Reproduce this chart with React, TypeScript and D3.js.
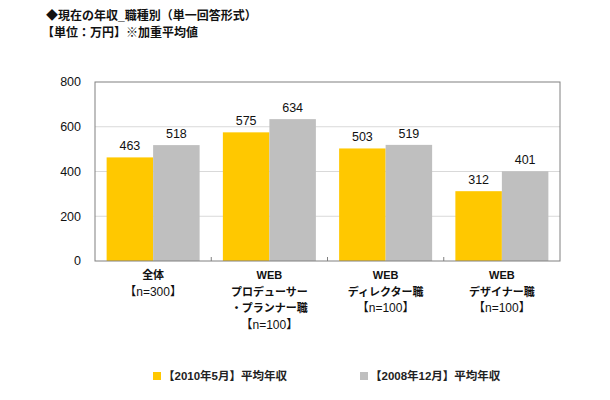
import * as d3 from "d3";

const categories = ["全体", "WEBプロデューサー", "WEBディレクター職", "WEBデザイナー職"];
const categoryLines = [
	["全体", "【n=300】"],
	["WEB", "プロデューサー", "・プランナー職", "【n=100】"],
	["WEB", "ディレクター職", "【n=100】"],
	["WEB", "デザイナー職", "【n=100】"],
];
const series2010 = [463, 575, 503, 312];
const series2008 = [518, 634, 519, 401];
const seriesNames = ["【2010年5月】平均年収", "【2008年12月】平均年収"];
const yTickValues = [0, 200, 400, 600, 800];

const colors = ["#FFC800", "#BFBFBF"];
const font = "Arial, 'Liberation Sans', 'Noto Sans CJK JP', sans-serif";

export default function App() {
	const width = 610;
	const height = 400;
	const margin = { top: 82, right: 50, bottom: 139, left: 95 };
	const innerW = width - margin.left - margin.right;
	const innerH = height - margin.top - margin.bottom;

	const x0 = d3.scaleBand<string>().domain(categories).range([0, innerW]).paddingInner(0.2).paddingOuter(0.1);
	const x1 = d3.scaleBand<number>().domain([0, 1]).range([0, x0.bandwidth()]);
	const y = d3.scaleLinear().domain([0, 800]).range([innerH, 0]);

	const data = [series2010, series2008];

	return (
		<svg width={width} height={height} style={{ position: "absolute", left: 0, top: 0, background: "#fff" }} fontFamily={font}>
			<text x={46} y={20} fontSize={12} fontWeight="bold" fill="#111">◆現在の年収_職種別（単一回答形式）</text>
			<text x={42} y={37} fontSize={12} fontWeight="bold" fill="#111">【単位：万円】※加重平均値</text>
			<g transform={`translate(${margin.left},${margin.top})`}>
				{yTickValues.map((t) => (
					<g key={t}>
						{t > 0 && t < 800 && (
							<line x1={0} x2={innerW} y1={y(t)} y2={y(t)} stroke="#d9d9d9" strokeWidth={1} />
						)}
						<text x={-14} y={y(t)} dy="0.35em" textAnchor="end" fontSize={12.5} fill="#111">{t}</text>
					</g>
				))}
				{categories.map((c, i) => (
					<g key={c} transform={`translate(${x0(c)},0)`}>
						{data.map((s, j) => (
							<g key={j}>
								<rect x={x1(j)} y={y(s[i])} width={x1.bandwidth()} height={innerH - y(s[i])} fill={colors[j]} />
								<text x={(x1(j) as number) + x1.bandwidth() / 2} y={y(s[i]) - 7} textAnchor="middle" fontSize={12.5} fill="#111">{s[i]}</text>
							</g>
						))}
					</g>
				))}
				<rect x={0} y={0} width={innerW} height={innerH} fill="none" stroke="#808080" strokeWidth={1} />
				{categories.slice(1).map((c) => {
					const bx = (x0(c) as number) - (x0.step() - x0.bandwidth()) / 2;
					return <line key={c} x1={bx} x2={bx} y1={innerH} y2={innerH - 4} stroke="#808080" />;
				})}
				{categories.map((c, i) => (
					<text key={c} x={(x0(c) as number) + x0.bandwidth() / 2} y={innerH + 18} textAnchor="middle" fontSize={11} fill="#111">
						{categoryLines[i].map((l, k) => {
							const isN = l.startsWith("【");
							return (
								<tspan
									key={k}
									x={(x0(c) as number) + x0.bandwidth() / 2}
									dy={k === 0 ? 0 : 16.5}
									fontWeight={isN ? "normal" : "bold"}
									fontSize={isN ? 12 : 11}
								>
									{l}
								</tspan>
							);
						})}
					</text>
				))}
			</g>
			{seriesNames.map((n, j) => {
				const lx = j === 0 ? 153 : 360;
				return (
					<g key={n}>
						<rect x={lx} y={372} width={8} height={8} fill={colors[j]} />
						<text x={lx + 10} y={380} fontSize={11.5} fontWeight="bold" fill="#222">{n}</text>
					</g>
				);
			})}
		</svg>
	);
}
